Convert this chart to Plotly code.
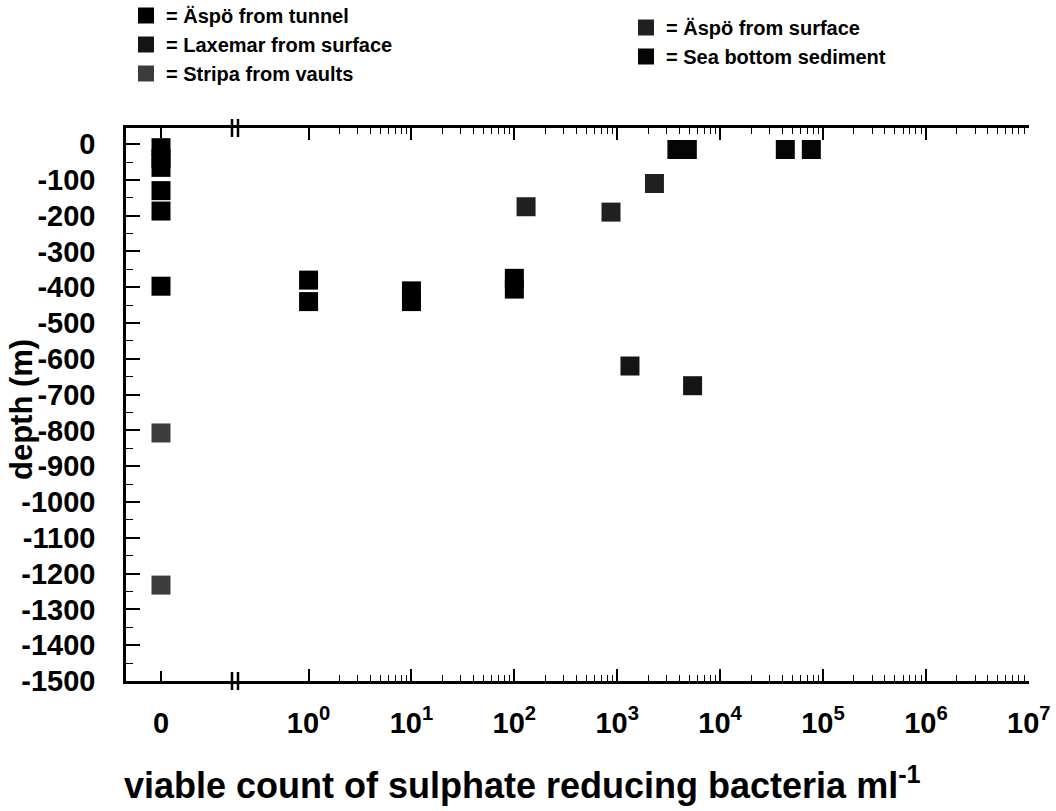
import plotly.graph_objects as go

# ---------------- data ----------------
# samples with zero viable count (plotted on the "0" segment of the broken axis)
tunnel_zero_depth = [-10, -40, -65, -130, -187, -397]
stripa_zero_depth = [-807, -1232]

# samples with positive viable counts (log segment)
tunnel_count = [1, 1, 10, 10, 100, 100]
tunnel_depth = [-380, -440, -410, -440, -375, -405]
laxemar_count = [1330, 5400]
laxemar_depth = [-620, -675]
aspo_surface_count = [130, 870, 2300]
aspo_surface_depth = [-175, -190, -110]
sea_count = [3800, 4800, 43000, 77000]
sea_depth = [-15, -15, -15, -15]

series_names = ["= Äspö from tunnel", "= Laxemar from surface", "= Stripa from vaults",
                "= Äspö from surface", "= Sea bottom sediment"]
series_colors = ["#000000", "#151515", "#3c3c3c", "#202020", "#050505"]

y_ticks = [0, -100, -200, -300, -400, -500, -600, -700, -800, -900, -1000,
           -1100, -1200, -1300, -1400, -1500]
x_decades = [0, 1, 2, 3, 4, 5, 6, 7]

# ---------------- figure ----------------
FONT = "Liberation Sans"
MS = 19

fig = go.Figure()

def add(x, y, name, color, xaxis, legend, show):
    fig.add_trace(go.Scatter(
        x=x, y=y, mode="markers", name=name, legendgroup=name,
        showlegend=show, legend=legend, xaxis=xaxis, yaxis="y",
        marker=dict(symbol="square", size=MS, color=color,
                    line=dict(width=0))))

# left column legend
add([0] * len(tunnel_zero_depth), tunnel_zero_depth, series_names[0], series_colors[0], "x", "legend", False)
add(tunnel_count, tunnel_depth, series_names[0], series_colors[0], "x2", "legend", True)
add(laxemar_count, laxemar_depth, series_names[1], series_colors[1], "x2", "legend", True)
add([0] * len(stripa_zero_depth), stripa_zero_depth, series_names[2], series_colors[2], "x", "legend", True)
# right column legend
add(aspo_surface_count, aspo_surface_depth, series_names[3], series_colors[3], "x2", "legend2", True)
add(sea_count, sea_depth, series_names[4], series_colors[4], "x2", "legend2", True)

L, R, T, B = 126, 1029, 128, 681
W, H = 1056, 811
pw, ph = R - L, B - T
brk_px = 235
d1 = (brk_px - L) / pw

def px2paper_x(px):
    return (px - L) / pw

def px2paper_y(py):
    return (B - py) / ph

minor_vals = [m * 10 ** k for k in range(0, 7) for m in range(2, 10)]

axis_common = dict(showline=True, linecolor="black", linewidth=2.5,
                   ticks="inside", tickcolor="black", tickwidth=1.5,
                   showgrid=False, zeroline=False, automargin=False,
                   ticklabeloverflow="allow",
                   tickfont=dict(family=FONT, size=29, color="black", weight="bold"))

fig.update_layout(
    width=W, height=H,
    margin=dict(l=L, r=W - R, t=T, b=H - B, pad=0, autoexpand=False),
    paper_bgcolor="white", plot_bgcolor="white",
    font=dict(family=FONT, color="black"),
    xaxis=dict(domain=[0, d1], range=[-1, 2.114], tickvals=[0], ticktext=["0"],
               ticklen=10, mirror="allticks", ticklabelstandoff=14, anchor="y",
               **axis_common),
    xaxis2=dict(domain=[d1, 1], type="log", range=[-0.715, 7.002],
                tickvals=[10 ** d for d in x_decades],
                ticktext=[f"10<sup>{d}</sup>" for d in x_decades],
                ticklen=12, mirror="allticks", ticklabelstandoff=14, anchor="y",
                minor=dict(tickvals=minor_vals, ticks="inside", ticklen=6,
                           tickcolor="black", tickwidth=1.2),
                **axis_common),
    yaxis=dict(range=[-1500, 45], tickvals=y_ticks,
               ticktext=[str(v) if v == 0 else "-" + str(-v) for v in y_ticks],
               ticklen=14, ticklabelstandoff=22, anchor="x",
               minor=dict(dtick=50, ticks="inside", ticklen=7, tickcolor="black",
                          tickwidth=1.2),
               **axis_common),
    yaxis2=dict(range=[-1500, 45], matches="y", anchor="x2", side="right",
                overlaying="y", showticklabels=False, tickvals=y_ticks,
                ticklen=14, automargin=False,
                minor=dict(dtick=50, ticks="inside", ticklen=7, tickcolor="black",
                           tickwidth=1.2),
                showline=True, linecolor="black", linewidth=2.5, ticks="inside",
                tickcolor="black", tickwidth=1.5, showgrid=False, zeroline=False),
    legend=dict(x=px2paper_x(126), y=px2paper_y(-4), xanchor="left", yanchor="top",
                bgcolor="rgba(0,0,0,0)", itemwidth=30, tracegroupgap=0,
                font=dict(family=FONT, size=20, color="black", weight="bold")),
    legend2=dict(x=px2paper_x(626), y=px2paper_y(8), xanchor="left", yanchor="top",
                 bgcolor="rgba(0,0,0,0)", itemwidth=30, tracegroupgap=0,
                 font=dict(family=FONT, size=20, color="black", weight="bold")),
    showlegend=True,
)

# axis titles
fig.add_annotation(text="viable count of sulphate reducing bacteria ml<sup>-1</sup>",
                   xref="paper", yref="paper", x=px2paper_x(522), y=px2paper_y(783),
                   xanchor="center", yanchor="middle", showarrow=False,
                   font=dict(family=FONT, size=36, color="black", weight="bold"))
fig.add_annotation(text="depth (m)", textangle=-90,
                   xref="paper", yref="paper", x=px2paper_x(21), y=px2paper_y(410),
                   xanchor="center", yanchor="middle", showarrow=False, borderpad=0,
                   font=dict(family=FONT, size=31, color="black", weight="bold"))

# axis-break marks "||" on the top and bottom axes
for yy in (T, B):
    for dx in (-3, 3):
        fig.add_shape(type="line", xref="paper", yref="paper",
                      x0=px2paper_x(brk_px + dx), x1=px2paper_x(brk_px + dx),
                      y0=px2paper_y(yy - 9), y1=px2paper_y(yy + 9),
                      line=dict(color="black", width=2.5))

fig.write_html("out.html", config={"displayModeBar": False},
               post_script="document.body.style.margin='0';document.body.style.overflow='hidden';")
